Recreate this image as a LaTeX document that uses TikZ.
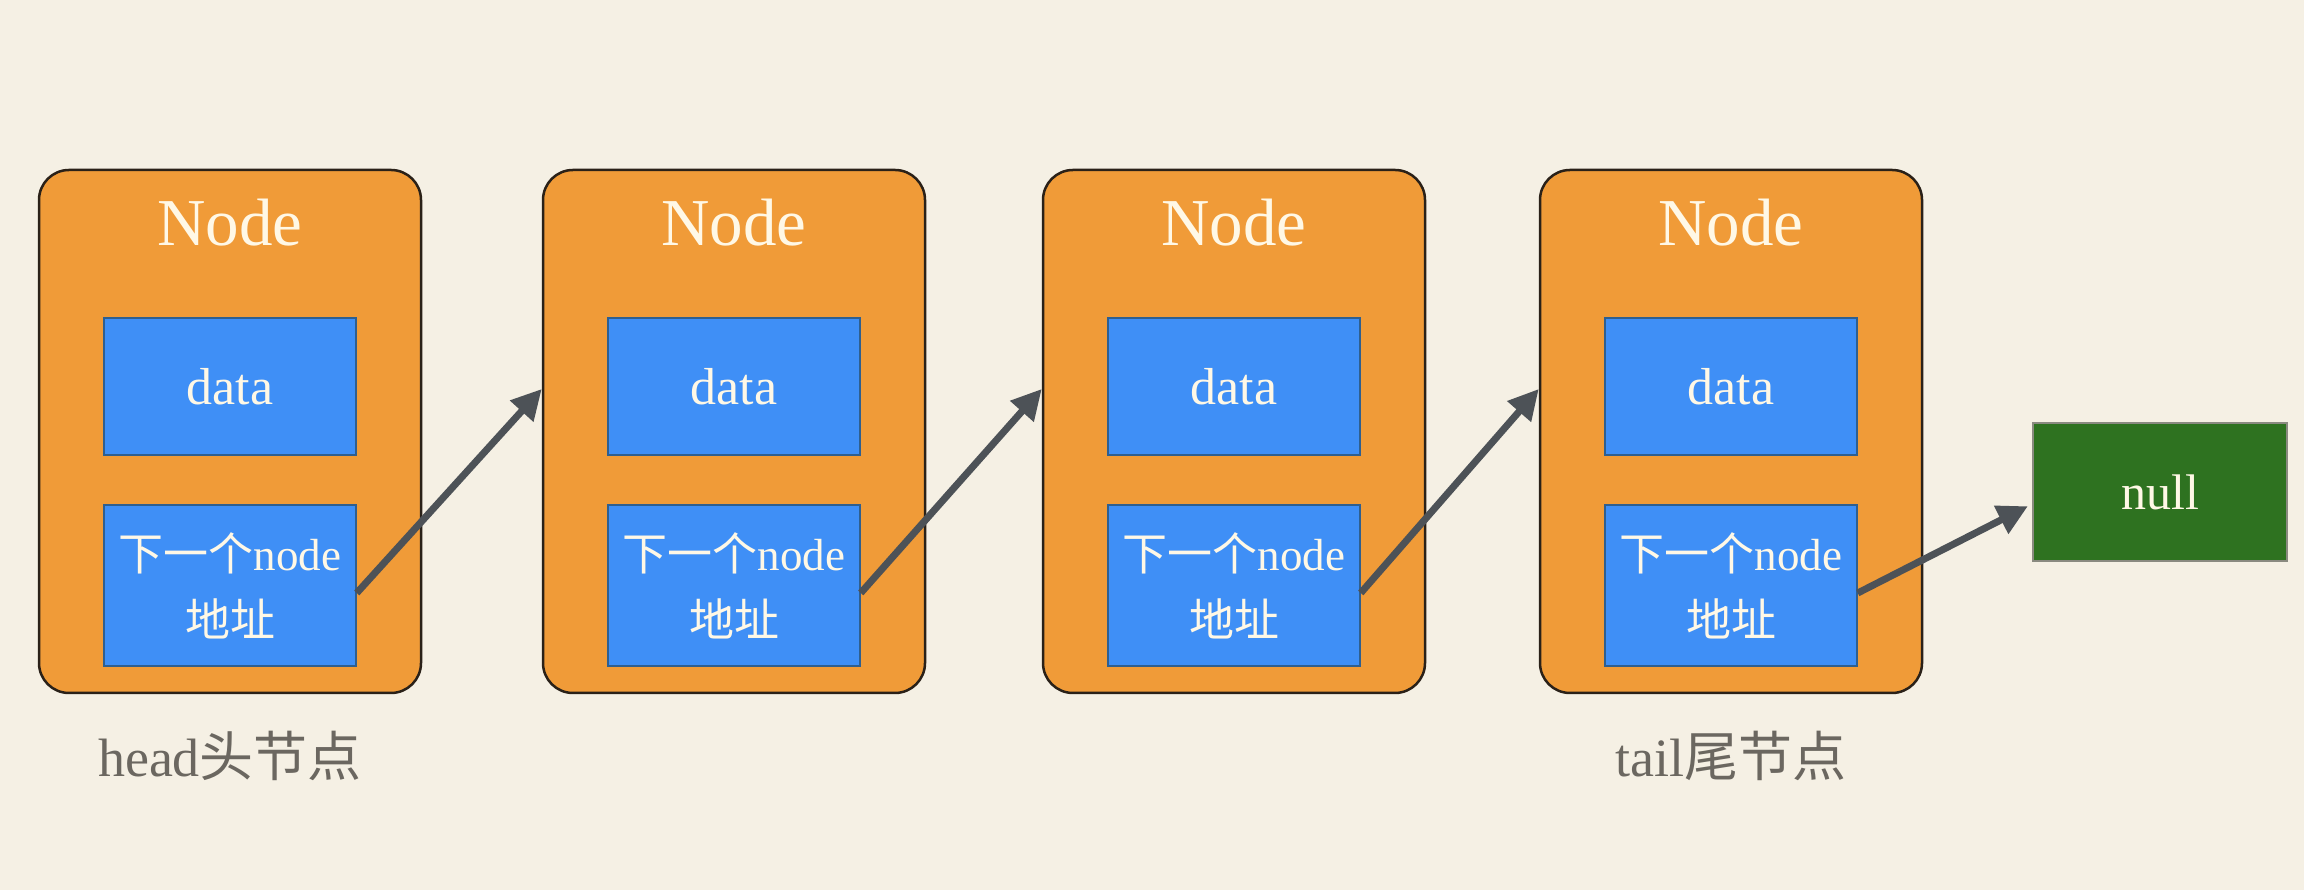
\documentclass[tikz,border=0pt]{standalone}
\usepackage{fontspec}
\setmainfont{Liberation Serif}
\newfontfamily\cjk{Noto Sans CJK SC}
\usetikzlibrary{arrows.meta}
\definecolor{bgcream}{HTML}{F5F0E4}
\definecolor{nodeorange}{HTML}{F09B38}
\definecolor{nodeedge}{HTML}{2A2118}
\definecolor{fieldblue}{HTML}{3F8FF6}
\definecolor{fieldedge}{HTML}{2F5F8F}
\definecolor{nullgreen}{HTML}{2E7220}
\definecolor{nulledge}{HTML}{8A8A80}
\definecolor{textcream}{HTML}{FFF8E6}
\definecolor{labelgray}{HTML}{6B6760}
\definecolor{linkgray}{HTML}{4D5257}

\begin{document}
\begin{tikzpicture}[x=1pt,y=1pt,
  listnode/.style={draw=nodeedge,line width=2.5pt,fill=nodeorange,rounded corners=30pt,
    minimum width=382pt,minimum height=523pt,inner sep=0pt},
  nodetitle/.style={text=textcream,anchor=base,inner sep=0pt,font=\fontsize{67}{67}\selectfont},
  datafield/.style={draw=fieldedge,line width=1.5pt,fill=fieldblue,text=textcream,inner sep=0pt,
    minimum width=252pt,minimum height=137pt,font=\fontsize{52}{66}\selectfont},
  addrfield/.style={draw=fieldedge,line width=1.5pt,fill=fieldblue,text=textcream,inner sep=0pt,
    minimum width=252pt,minimum height=161pt,align=center,font=\fontsize{45}{66}\selectfont},
  nullbox/.style={draw=nulledge,line width=1.5pt,fill=nullgreen,text=textcream,inner sep=0pt,
    minimum width=254pt,minimum height=138pt,font=\fontsize{50}{66}\selectfont},
  endlabel/.style={text=labelgray,anchor=base,inner sep=0pt,font=\fontsize{54}{66}\selectfont},
  link/.style={draw=linkgray,line width=7pt,-{Triangle[length=30pt,width=30pt]}}]
\fill[bgcream] (0,0) rectangle (2304,890);
% Drawing list nodes
% Node 1: head
\node[listnode] (box1) at (230,458.5) {};
\node[nodetitle] (title1) at (230,644) {Node};
\node[datafield] (data1) at (230,503.5) {data};
\node[addrfield] (addr1) at (230,304.5) {{\cjk 下一个}node\\{\cjk 地址}};
% Node 2
\node[listnode] (box2) at (734,458.5) {};
\node[nodetitle] (title2) at (734,644) {Node};
\node[datafield] (data2) at (734,503.5) {data};
\node[addrfield] (addr2) at (734,304.5) {{\cjk 下一个}node\\{\cjk 地址}};
% Node 3
\node[listnode] (box3) at (1234,458.5) {};
\node[nodetitle] (title3) at (1234,644) {Node};
\node[datafield] (data3) at (1234,503.5) {data};
\node[addrfield] (addr3) at (1234,304.5) {{\cjk 下一个}node\\{\cjk 地址}};
% Node 4: tail
\node[listnode] (box4) at (1731,458.5) {};
\node[nodetitle] (title4) at (1731,644) {Node};
\node[datafield] (data4) at (1731,503.5) {data};
\node[addrfield] (addr4) at (1731,304.5) {{\cjk 下一个}node\\{\cjk 地址}};
% End of list
\node[nullbox] (null) at (2160,398) {null};
% Done with nodes; drawing links
\draw[link] ([yshift=-7.5pt]addr1.east) -- ([yshift=42.5pt]box2.west);
\draw[link] ([yshift=-7.5pt]addr2.east) -- ([yshift=42.5pt]box3.west);
\draw[link] ([yshift=-7.5pt]addr3.east) -- ([yshift=42.5pt]box4.west);
\draw[link,shorten >=5pt] ([yshift=-7.5pt]addr4.east) -- ([yshift=-12pt]null.west);
% Done with links; drawing labels
\node[endlabel] (headlabel) at (230,113) {head{\cjk 头节点}};
\node[endlabel] (taillabel) at (1731,113) {tail{\cjk 尾节点}};
\end{tikzpicture}
\end{document}
